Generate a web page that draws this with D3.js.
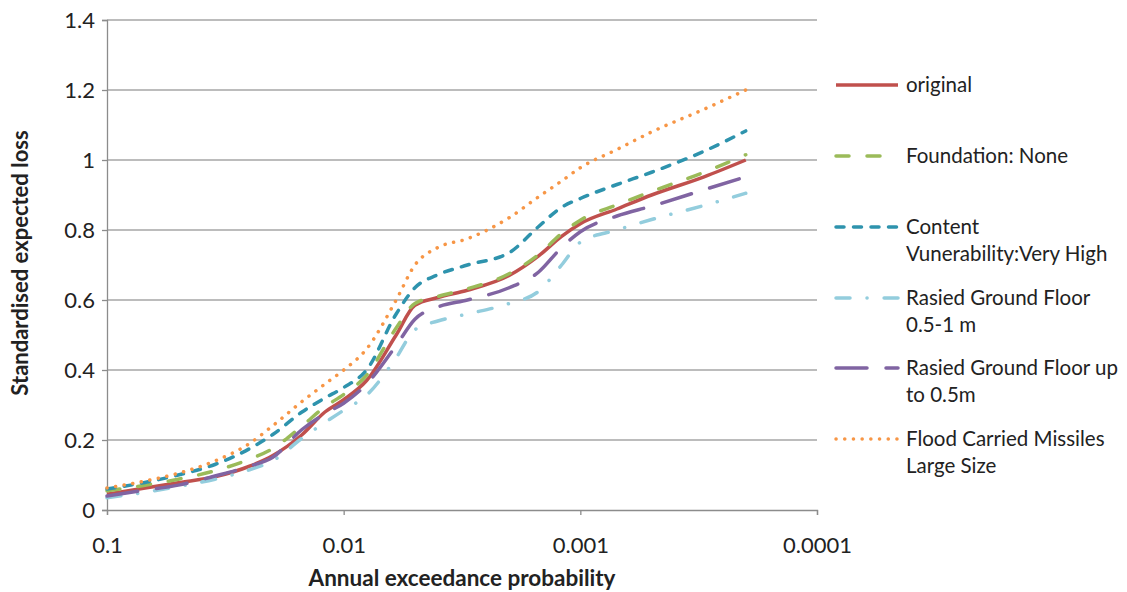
<!DOCTYPE html>
<html>
<head>
<meta charset="utf-8">
<script src="https://cdn.jsdelivr.net/npm/d3@7"></script>
<style>
  body { margin: 0; background: #fff; }
  text { font-family: Lato, "Noto Sans", sans-serif; fill: #222; }
</style>
</head>
<body>
<div id="wrapper"></div>
<script>
// annual exceedance probability, shared by all series
const probs = [0.1, 0.07, 0.05, 0.035, 0.025, 0.02, 0.015, 0.012, 0.01, 0.008, 0.006,
  0.005, 0.004, 0.003, 0.002, 0.0015, 0.0012, 0.001, 0.0007, 0.0005, 0.0003, 0.0002];

const original   = [0.045, 0.062, 0.078, 0.095, 0.125, 0.155, 0.215, 0.28, 0.315, 0.37, 0.50,
  0.585, 0.607, 0.628, 0.67, 0.726, 0.782, 0.818, 0.86, 0.90, 0.952, 1.0];
const foundation = [0.055, 0.07, 0.088, 0.112, 0.145, 0.175, 0.24, 0.295, 0.33, 0.385, 0.52,
  0.59, 0.61, 0.632, 0.675, 0.73, 0.79, 0.828, 0.872, 0.91, 0.965, 1.015];
const content    = [0.06, 0.078, 0.1, 0.13, 0.175, 0.215, 0.28, 0.32, 0.35, 0.40, 0.56,
  0.635, 0.672, 0.70, 0.735, 0.81, 0.865, 0.89, 0.93, 0.965, 1.025, 1.083];
const raised1m   = [0.035, 0.05, 0.067, 0.088, 0.115, 0.14, 0.205, 0.25, 0.285, 0.328, 0.435,
  0.515, 0.54, 0.56, 0.59, 0.625, 0.70, 0.765, 0.80, 0.83, 0.87, 0.905];
const raised05m  = [0.04, 0.056, 0.071, 0.097, 0.125, 0.15, 0.23, 0.275, 0.305, 0.36, 0.47,
  0.545, 0.58, 0.60, 0.635, 0.68, 0.75, 0.795, 0.84, 0.868, 0.915, 0.952];
const missiles   = [0.063, 0.082, 0.105, 0.14, 0.19, 0.24, 0.31, 0.36, 0.40, 0.46, 0.60,
  0.70, 0.75, 0.775, 0.835, 0.895, 0.94, 0.978, 1.03, 1.08, 1.145, 1.2];

const xTicks = [0.1, 0.01, 0.001, 0.0001];
const yTicks = [0, 0.2, 0.4, 0.6, 0.8, 1, 1.2, 1.4];

const series = [
  {name: ["original"], values: original, color: "#c0504d", dash: null},
  {name: ["Foundation: None"], values: foundation, color: "#9bbb59", dash: "13,18"},
  {name: ["Content", "Vunerability:Very High"], values: content, color: "#2e93ad", dash: "8,9.5"},
  {name: ["Rasied Ground Floor", "0.5-1 m"], values: raised1m, color: "#93cddd", dash: "14,17,0.1,17"},
  {name: ["Rasied Ground Floor up", "to 0.5m"], values: raised05m, color: "#8064a2", dash: "31,19"},
  {name: ["Flood Carried Missiles", "Large Size"], values: missiles, color: "#f79646", dash: "0.1,8.6"}
];

const dimension = {
  width: 1127,
  height: 592,
  margin: {top: 20, left: 107, bottom: 82, right: 310}
};
dimension.boundedWidth = dimension.width - dimension.margin.left - dimension.margin.right;
dimension.boundedHeight = dimension.height - dimension.margin.top - dimension.margin.bottom;

const svg = d3.select("#wrapper").append("svg")
  .attr("width", dimension.width)
  .attr("height", dimension.height);

const xScaler = d3.scaleLog()
  .domain([0.1, 0.0001])
  .range([dimension.margin.left, dimension.margin.left + dimension.boundedWidth]);
const yScaler = d3.scaleLinear()
  .domain([0, 1.4])
  .range([dimension.margin.top + dimension.boundedHeight, dimension.margin.top]);

// gridlines
svg.append("g")
  .selectAll("line")
  .data(yTicks.filter(d => d > 0))
  .join("line")
  .attr("x1", xScaler(0.1))
  .attr("x2", xScaler(0.0001))
  .attr("y1", d => yScaler(d))
  .attr("y2", d => yScaler(d))
  .attr("stroke", "#a6a6a6")
  .attr("stroke-width", 1.3);

// axes
const yAxisGenerator = d3.axisLeft(yScaler).tickValues(yTicks).tickSize(5).tickPadding(7)
  .tickFormat(d => String(d));
const xAxisGenerator = d3.axisBottom(xScaler).tickValues(xTicks).tickSize(5).tickPadding(22)
  .tickFormat(d => String(d));

const yAxis = svg.append("g")
  .attr("transform", `translate(${dimension.margin.left},0)`)
  .call(yAxisGenerator);
const xAxis = svg.append("g")
  .attr("transform", `translate(0,${yScaler(0)})`)
  .call(xAxisGenerator);

[yAxis, xAxis].forEach(g => {
  g.select(".domain").attr("stroke", "#8c8c8c").attr("stroke-width", 1.3);
  g.selectAll(".tick line").attr("stroke", "#8c8c8c").attr("stroke-width", 1.3);
  g.selectAll(".tick text").attr("font-family", "Lato, 'Noto Sans', sans-serif")
    .attr("font-size", 22).attr("fill", "#222");
});

// lines
const line = d3.line()
  .x((d, i) => xScaler(probs[i]))
  .y(d => yScaler(d))
  .curve(d3.curveMonotoneX);

svg.append("g")
  .selectAll("path")
  .data(series)
  .join("path")
  .attr("d", d => line(d.values))
  .attr("fill", "none")
  .attr("stroke", d => d.color)
  .attr("stroke-width", 3.5)
  .attr("stroke-linecap", d => d.dash ? "round" : "butt")
  .attr("stroke-dasharray", d => d.dash);

// axis titles
svg.append("text")
  .attr("x", 462)
  .attr("y", 586)
  .attr("text-anchor", "middle")
  .attr("font-size", 22.5)
  .attr("font-weight", "bold")
  .text("Annual exceedance probability");

svg.append("text")
  .attr("transform", "translate(28,263) rotate(-90)")
  .attr("text-anchor", "middle")
  .attr("font-size", 22)
  .attr("font-weight", "bold")
  .text("Standardised expected loss");

// legend
const legendY = [85, 156, 227, 298, 368, 439];
const legend = svg.append("g")
  .selectAll("g")
  .data(series)
  .join("g")
  .attr("transform", (d, i) => `translate(835,${legendY[i]})`);

legend.append("line")
  .attr("x1", 1).attr("x2", 63)
  .attr("stroke", d => d.color)
  .attr("stroke-width", 3.5)
  .attr("stroke-linecap", d => d.dash ? "round" : "butt")
  .attr("stroke-dasharray", d => d.dash);

legend.append("text")
  .attr("x", 71)
  .attr("font-size", 20.5)
  .selectAll("tspan")
  .data(d => d.name)
  .join("tspan")
  .attr("x", 71)
  .attr("y", (d, i) => i * 27 + 7)
  .text(d => d);
</script>
</body>
</html>
